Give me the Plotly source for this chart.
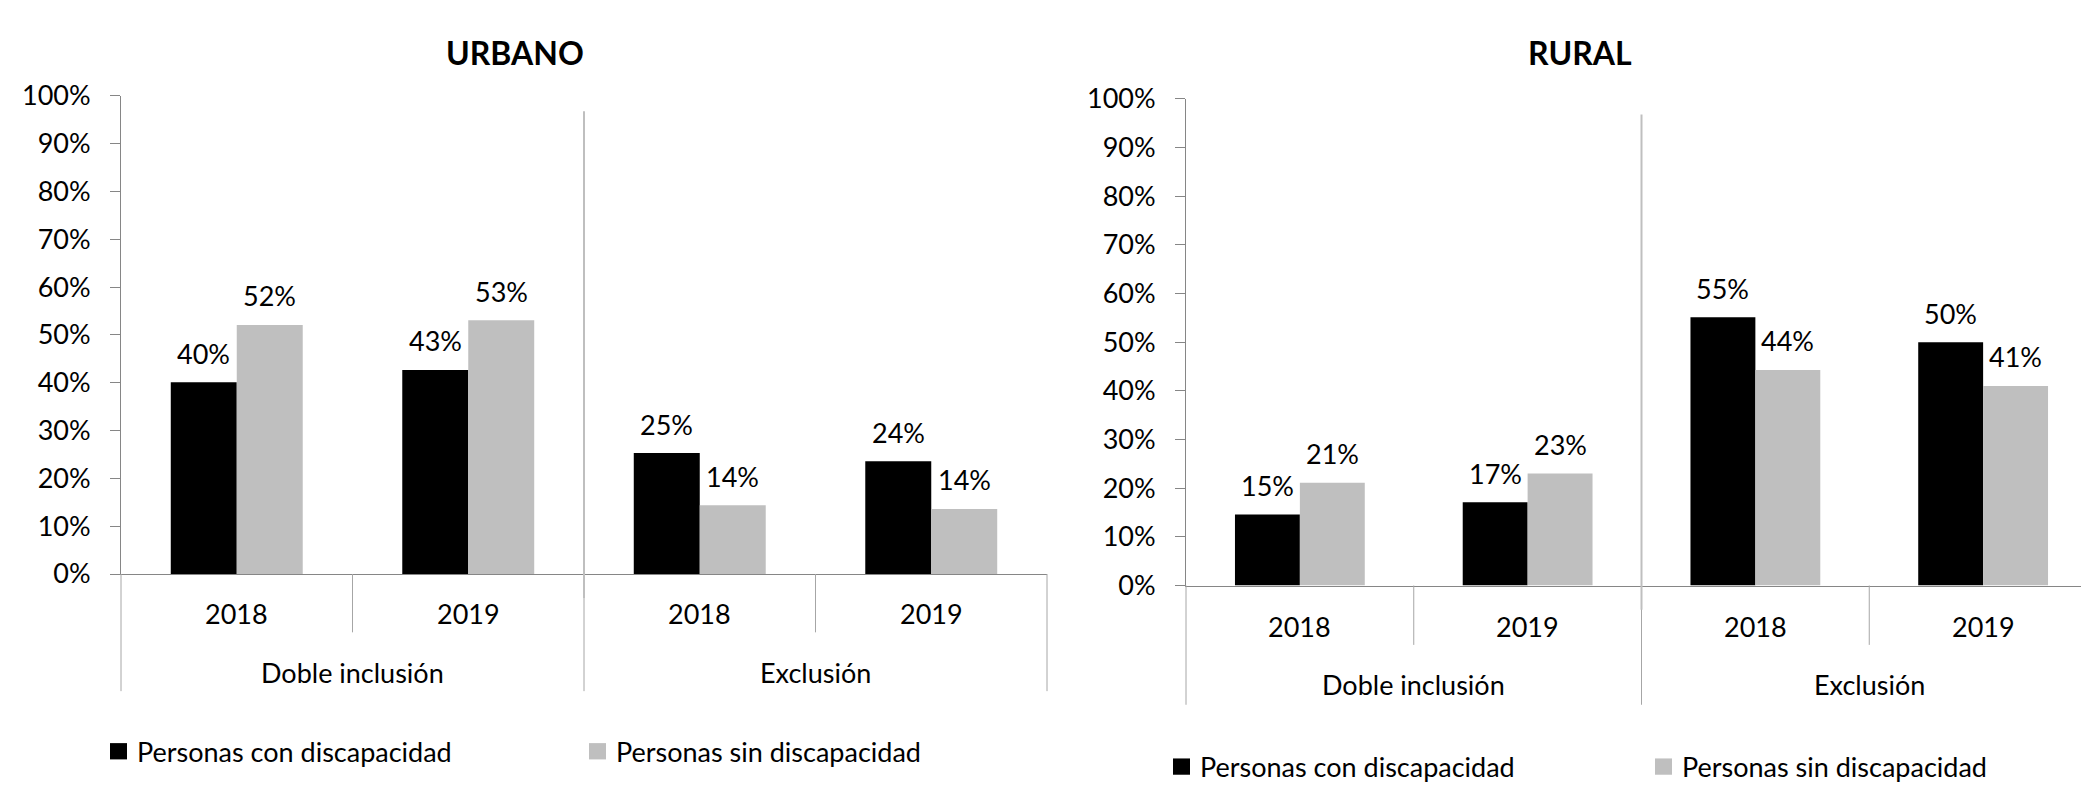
import plotly.graph_objects as go
from plotly.subplots import make_subplots

# ── Data ──────────────────────────────────────────────────────────────────────
GROUPS = ["Doble inclusión", "Exclusión"]
YEARS = ["2018", "2019"]
SERIES = ["Personas con discapacidad", "Personas sin discapacidad"]

URBANO_CON = [0.401, 0.427, 0.253, 0.236]
URBANO_SIN = [0.521, 0.531, 0.144, 0.136]
RURAL_CON = [0.146, 0.171, 0.551, 0.500]
RURAL_SIN = [0.211, 0.230, 0.443, 0.410]

# ── Theme ─────────────────────────────────────────────────────────────────────
W, H = 2089, 787
BLACK = "#000000"
GRAY = "#BFBFBF"
AXIS = "#868686"
TICK = "#A6A6A6"
SEP = "#BFBFBF"
FONT = "Lato, 'Open Sans', sans-serif"
TXT = 27
BARGAP = 0.43
COLORS = [BLACK, GRAY]

# plot-area geometry per panel, in page pixels
PANELS = [
    dict(name="URBANO", values=[URBANO_CON, URBANO_SIN],
         x0=113, x1=1039, top=73, bottom=572, title_x=507,
         year_y=613, group_y=675, legend_y=757, legend_x=[102, 581]),
    dict(name="RURAL", values=[RURAL_CON, RURAL_SIN],
         x0=1178, x1=2089, top=76, bottom=584, title_x=1572,
         year_y=627, group_y=687, legend_y=773, legend_x=[1165, 1647]),
]


def py(v):
    """page pixel row -> paper y"""
    return 1 - v / H


def px(v):
    return v / W


cats = [(g, y) for g in GROUPS for y in YEARS]
idx = list(range(len(cats)))

fig = make_subplots(rows=1, cols=2)
annotations = []
shapes = []

for col, p in enumerate(PANELS, start=1):
    xa = "x" if col == 1 else f"x{col}"
    ya = "y" if col == 1 else f"y{col}"

    for k, (vals, name) in enumerate(zip(p["values"], SERIES)):
        fig.add_trace(go.Bar(
            x=idx, y=vals, name=name,
            marker=dict(color=COLORS[k], line=dict(width=0)),
            showlegend=False, hoverinfo="skip",
        ), row=1, col=col)

        # data labels, centred over each bar, lifted like Excel's
        off = (k - 0.5) * (1 - BARGAP) / 2
        for i, v in zip(idx, vals):
            annotations.append(dict(
                x=i + off, y=v, xref=xa, yref=ya, yshift=29,
                text=f"{v:.0%}", showarrow=False,
                xanchor="center", yanchor="middle",
                font=dict(size=TXT, color=BLACK, family=FONT),
            ))

    fig.update_xaxes(
        domain=[px(p["x0"]), px(p["x1"])], range=[-0.5, len(cats) - 0.5],
        showticklabels=False, showgrid=False, zeroline=False,
        showline=True, linecolor=AXIS, linewidth=1, ticks="",
        row=1, col=col,
    )
    fig.update_yaxes(
        domain=[py(p["bottom"]), py(p["top"])], range=[0, 1],
        tickformat=".0%", dtick=0.1, ticks="outside", ticklen=10,
        tickcolor=AXIS, showline=True, linecolor=AXIS, linewidth=1,
        showgrid=False, zeroline=False, ticklabelstandoff=14,
        tickfont=dict(size=TXT, color=BLACK, family=FONT),
        row=1, col=col,
    )

    # multi-level category axis (year row + group row)
    n = len(cats)
    per = len(YEARS)
    for b in range(n + 1):
        outer = b % per == 0
        shapes.append(dict(
            type="line", xref=f"{xa} domain", yref=f"{ya} domain",
            x0=b / n, x1=b / n, y0=0, y1=-0.245 if outer else -0.122,
            line=dict(color=TICK, width=1),
        ))
    # separator between groups inside the plot
    for gi in range(1, len(GROUPS)):
        xs = gi * per / n
        shapes.append(dict(
            type="line", xref=f"{xa} domain", yref=f"{ya} domain",
            x0=xs, x1=xs, y0=-0.05, y1=0.968,
            line=dict(color=SEP, width=2),
        ))

    for i, (g, yr) in enumerate(cats):
        annotations.append(dict(
            x=i, y=py(p["year_y"]), xref=xa, yref="paper",
            text=yr, showarrow=False, xanchor="center", yanchor="middle",
            font=dict(size=TXT, color=BLACK, family=FONT),
        ))
    for gi, g in enumerate(GROUPS):
        centre = sum(idx[gi * per:(gi + 1) * per]) / per
        annotations.append(dict(
            x=centre, y=py(p["group_y"]), xref=xa, yref="paper",
            text=g, showarrow=False, xanchor="center", yanchor="middle",
            font=dict(size=TXT, color=BLACK, family=FONT),
        ))

    # panel title
    annotations.append(dict(
        x=px(p["title_x"]), y=py(28), xref="paper", yref="paper",
        text=f"<b>{p['name']}</b>", showarrow=False,
        xanchor="center", yanchor="middle",
        font=dict(size=32, color=BLACK, family=FONT),
    ))

    # legend drawn by hand, one per panel
    for k, name in enumerate(SERIES):
        lx = p["legend_x"][k]
        ly = p["legend_y"]
        shapes.append(dict(
            type="rect", xref="paper", yref="paper",
            x0=px(lx), x1=px(lx + 17), y0=py(ly + 8.5), y1=py(ly - 8.5),
            fillcolor=COLORS[k], line=dict(width=0),
        ))
        annotations.append(dict(
            x=px(lx + 25), y=py(ly), xref="paper", yref="paper",
            text=name, showarrow=False, xanchor="left", yanchor="middle",
            font=dict(size=TXT, color=BLACK, family=FONT),
        ))

fig.update_layout(
    width=W, height=H,
    barmode="group", bargap=BARGAP, bargroupgap=0,
    paper_bgcolor="white", plot_bgcolor="white",
    margin=dict(l=0, r=0, t=0, b=0),
    font=dict(family=FONT, color=BLACK, size=TXT),
    annotations=annotations, shapes=shapes,
)

fig.write_html("out.html")
